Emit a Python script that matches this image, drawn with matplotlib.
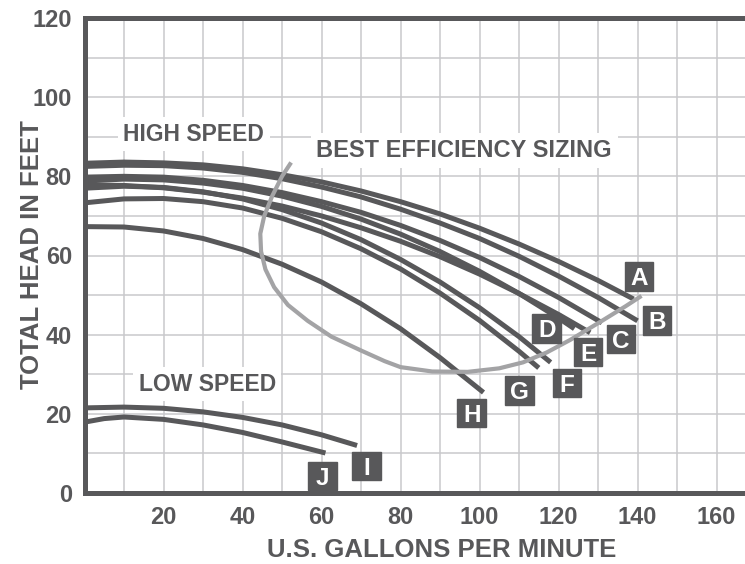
import matplotlib
matplotlib.use("Agg")
import matplotlib.pyplot as plt
from matplotlib.patches import Rectangle

# Courbes de pompe (gal/min -> hauteur en pieds)
A_x = [0, 10, 20, 30, 40, 50, 60, 70, 80, 90, 100, 110, 120, 130, 139]
A_y = [83.3, 83.6, 83.4, 82.9, 81.9, 80.4, 78.6, 76.3, 73.6, 70.5, 66.9, 62.9, 58.5, 53.7, 49.0]
B_x = [0, 10, 20, 30, 40, 50, 60, 70, 80, 90, 100, 110, 120, 130, 140]
B_y = [82.5, 82.8, 82.7, 82.1, 81.0, 79.4, 77.3, 74.8, 71.7, 68.2, 64.3, 59.8, 54.8, 49.4, 43.5]
C_x = [0, 10, 20, 30, 40, 50, 60, 70, 80, 90, 100, 110, 120, 131]
C_y = [79.8, 80.0, 79.8, 79.0, 77.7, 75.9, 73.6, 70.9, 67.6, 63.8, 59.5, 54.7, 49.4, 43.0]
D_x = [0, 10, 20, 30, 40, 50, 60, 70, 80, 90, 100, 110, 120, 124]
D_y = [78.8, 79.3, 79.1, 78.3, 77.0, 75.0, 72.4, 69.2, 65.4, 61.0, 56.0, 50.4, 44.2, 41.5]
E_x = [0, 10, 20, 30, 40, 50, 60, 70, 80, 90, 100, 110, 120, 128]
E_y = [77.8, 77.7, 77.1, 76.0, 74.5, 72.5, 70.0, 67.0, 63.6, 59.7, 55.3, 50.4, 45.1, 40.5]
F_x = [0, 10, 20, 30, 40, 50, 60, 70, 80, 90, 100, 110, 118]
F_y = [77.0, 77.5, 77.2, 76.1, 74.3, 71.6, 68.2, 64.0, 59.0, 53.3, 46.8, 39.5, 33.0]
G_x = [0, 10, 20, 30, 40, 50, 60, 70, 80, 90, 100, 110, 115]
G_y = [73.3, 74.3, 74.4, 73.6, 72.0, 69.4, 66.0, 61.7, 56.6, 50.5, 43.6, 35.8, 31.6]
H_x = [0, 10, 20, 30, 40, 50, 60, 70, 80, 90, 101]
H_y = [67.3, 67.2, 66.2, 64.3, 61.5, 57.8, 53.3, 47.8, 41.5, 34.2, 25.4]
I_x = [0, 10, 20, 30, 40, 50, 60, 69]
I_y = [21.5, 21.7, 21.4, 20.5, 19.1, 17.2, 14.7, 12.0]
J_x = [0, 5, 10, 20, 30, 40, 50, 61]
J_y = [17.9, 18.8, 19.2, 18.6, 17.2, 15.3, 12.9, 10.1]

# Zone de meilleur rendement
bep_x = [52.3, 50.0, 47.5, 45.5, 44.5, 44.7, 45.8, 48.0, 51.5, 56.5, 62.5, 70.0, 76.0,
         80.0, 88.0, 97.0, 105.0, 111.0, 117.0, 123.0, 131.0, 137.0, 141.0]
bep_y = [83.5, 80.0, 75.0, 70.0, 65.5, 61.0, 56.5, 52.0, 47.5, 43.5, 39.5, 36.0, 33.3,
         31.8, 30.7, 30.6, 31.5, 33.0, 35.5, 38.7, 43.5, 47.2, 49.8]

curve_names = ["A", "B", "C", "D", "E", "F", "G", "H", "I", "J"]
curves = [(A_x, A_y), (B_x, B_y), (C_x, C_y), (D_x, D_y), (E_x, E_y),
          (F_x, F_y), (G_x, G_y), (H_x, H_y), (I_x, I_y), (J_x, J_y)]

# position des étiquettes (centre des carrés)
tag_pos = [(140.3, 54.7), (144.9, 43.6), (135.8, 38.9), (117.0, 41.6), (127.5, 35.6),
           (122.2, 27.8), (110.1, 25.9), (98.0, 20.2), (71.4, 6.8), (60.3, 4.3)]

dark = "#58585a"
light = "#a3a3a5"
plt.rcParams["font.family"] = ["Liberation Sans", "DejaVu Sans"]
plt.rcParams["font.weight"] = "bold"
plt.rcParams["axes.labelweight"] = "bold"

fig = plt.figure(figsize=(7.45, 5.64), dpi=100)
ax = fig.add_axes([84.5 / 745, 1 - 493 / 564, (745 - 84.5) / 745, (493 - 18) / 564])
ax.set_xlim(0, 167.2)
ax.set_ylim(0, 120)

ax.set_xticks(range(20, 161, 20))
ax.set_xticks(range(10, 167, 10), minor=True)
ax.set_yticks(range(0, 121, 20))
ax.set_yticks(range(10, 120, 10), minor=True)
ax.grid(True, which="both", color="#c9c9cc", linewidth=1.1)
ax.set_axisbelow(True)
ax.tick_params(which="both", length=0)
ax.tick_params(axis="x", pad=9, labelsize=17, labelcolor=dark)
ax.tick_params(axis="y", pad=9, labelsize=17, labelcolor=dark)
for lbl in ax.get_xticklabels() + ax.get_yticklabels():
    lbl.set_fontweight("bold")

for side in ["left", "bottom", "top"]:
    ax.spines[side].set_linewidth(3.6)
    ax.spines[side].set_color(dark)
ax.spines["right"].set_visible(False)

for (xs, ys) in curves:
    ax.plot(xs, ys, color=dark, lw=3.6, solid_capstyle="butt", solid_joinstyle="round")
ax.plot(bep_x, bep_y, color=light, lw=3.0, solid_capstyle="butt", solid_joinstyle="round")

for name, (cx, cy) in zip(curve_names, tag_pos):
    ax.add_patch(Rectangle((cx - 3.6, cy - 3.6), 7.2, 7.2, color=dark, zorder=4))
    ax.text(cx, cy, name, color="white", fontsize=17.5, fontweight="bold",
            ha="center", va="center_baseline", zorder=5)

box = dict(facecolor="white", edgecolor="none", pad=4)
ax.text(27.7, 90.6, "HIGH SPEED", color=dark, fontsize=16.5, fontweight="bold",
        ha="center", va="center", bbox=box)
ax.text(96.1, 86.5, "BEST EFFICIENCY SIZING", color=dark, fontsize=17, fontweight="bold",
        ha="center", va="center", bbox=box)
ax.text(31.1, 27.5, "LOW SPEED", color=dark, fontsize=16.5, fontweight="bold",
        ha="center", va="center", bbox=box)

ax.set_xlabel("U.S. GALLONS PER MINUTE", fontsize=18.5, color=dark, fontweight="bold")
ax.xaxis.label.set_va("center")
ax.xaxis.set_label_coords(0.541, -0.12)
ax.set_ylabel("TOTAL HEAD IN FEET", fontsize=18.5, color=dark, fontweight="bold")
ax.yaxis.label.set_va("center")
ax.yaxis.set_label_coords(-0.08, 0.501)

fig.savefig("out.png", dpi=100)
